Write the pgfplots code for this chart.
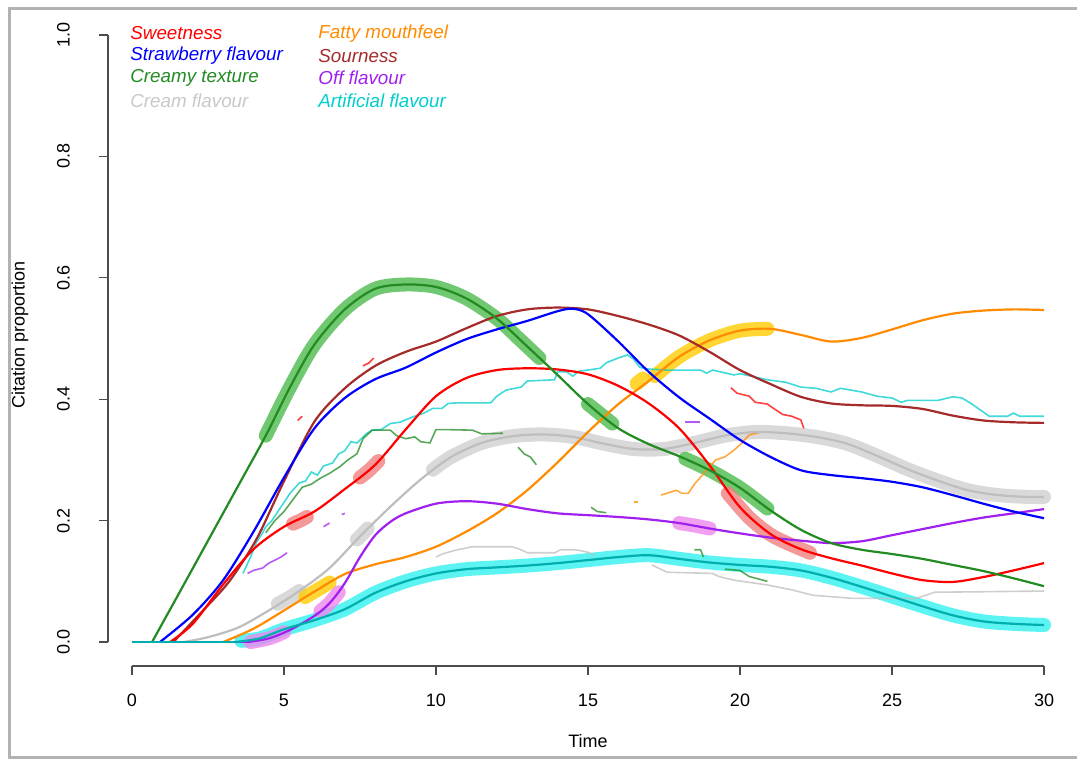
\documentclass[border=0pt]{standalone}
\usepackage{pgfplots}
\pgfplotsset{compat=1.18}
\usepackage{fontspec}
\setmainfont{Liberation Sans}
\definecolor{cRed}{HTML}{FF0000}
\definecolor{cBlue}{HTML}{0000FF}
\definecolor{cGreen}{HTML}{228B22}
\definecolor{cGray}{HTML}{BEBEBE}
\definecolor{cOrange}{HTML}{FF8C00}
\definecolor{cBrown}{HTML}{A52A2A}
\definecolor{cPurple}{HTML}{A020F0}
\definecolor{cCyan}{HTML}{00CDCD}
\definecolor{bGreen}{HTML}{4CBB4C}
\definecolor{bRed}{HTML}{F08080}
\definecolor{bGray}{HTML}{D0D0D0}
\definecolor{bYellow}{HTML}{FFCC00}
\definecolor{bPink}{HTML}{EE88EE}
\definecolor{bCyan}{HTML}{33F0F0}
\begin{document}
\begin{tikzpicture}
\begin{axis}[
  x=15.2pt, y=303.5pt,
  xmin=-0.79, xmax=30, ymin=-0.0395, ymax=1.0,
  axis x line*=bottom, axis y line*=left,
  axis line style={draw=none},
  clip=false,
  xtick={0,5,10,15,20,25,30},
  ytick={0,0.2,0.4,0.6,0.8,1.0},
  tick align=outside, major tick length=4.5pt,
  every tick/.style={black!70, line width=0.6pt},
  /pgf/number format/assume math mode=true,
  tick label style={font=\fontsize{9}{11}\selectfont},
  xticklabel style={yshift=-6pt},
  yticklabel style={rotate=90, anchor=south, yshift=11pt,
    /pgf/number format/fixed, /pgf/number format/fixed zerofill, /pgf/number format/precision=1},
  band/.style={line width=7pt, line cap=round, line join=round, opacity=0.8, smooth},
  main/.style={line width=1.1pt, smooth},
  flat/.style={line width=1.1pt, sharp plot},
  step/.style={line width=0.8pt, opacity=0.75, sharp plot},
]
% ---------- bands ----------
\addplot[band, color=bCyan] coordinates {(3.6,0.002) (4.2,0.006) (5.0,0.021) (6.0,0.036) (7.0,0.054) (8.0,0.081) (9.0,0.1) (10.0,0.113) (11.0,0.12) (12.0,0.123) (13.0,0.126) (14.0,0.13) (15.0,0.135) (16.0,0.14) (17.0,0.143) (18.0,0.137) (19.0,0.131) (20.0,0.127) (21.0,0.124) (22.0,0.118) (23.0,0.106) (24.0,0.091) (25.0,0.075) (26.0,0.059) (27.0,0.044) (28.0,0.034) (29.0,0.03) (30.0,0.028)};
\addplot[band, color=bGray] coordinates {(9.9,0.284) (10.5,0.305) (11.5,0.328) (12.5,0.339) (13.5,0.342) (14.5,0.338) (15.5,0.327) (16.5,0.318) (17.5,0.318) (18.5,0.328) (19.5,0.34) (20.5,0.346) (21.5,0.344) (22.5,0.338) (23.5,0.327) (24.5,0.307) (25.5,0.285) (26.5,0.266) (27.5,0.25) (28.5,0.242) (29.5,0.239) (30,0.239)};
\addplot[band, color=bGray] coordinates {(4.8,0.063) (5.2,0.074) (5.5,0.084)};
\addplot[band, color=bGray] coordinates {(7.4,0.169) (7.6,0.179) (7.75,0.187)};
\addplot[band, color=bGreen] coordinates {(4.4,0.34) (5.2,0.42) (6.0,0.49) (7.0,0.548) (8.0,0.582) (9.0,0.589) (10.0,0.585) (11.0,0.566) (12.0,0.533) (12.7,0.501) (13.4,0.468)};
\addplot[band, color=bGreen] coordinates {(15.0,0.392) (15.4,0.376) (15.8,0.36)};
\addplot[band, color=bGreen] coordinates {(18.2,0.302) (19.0,0.283) (20.0,0.254) (20.9,0.22)};
\addplot[band, color=bRed] coordinates {(5.3,0.195) (5.53,0.2) (5.75,0.206)};
\addplot[band, color=bRed] coordinates {(7.5,0.271) (7.8,0.283) (8.1,0.298)};
\addplot[band, color=bRed] coordinates {(19.6,0.245) (20.3,0.205) (21.0,0.177) (21.6,0.162) (22.3,0.147)};
\addplot[band, color=bYellow] coordinates {(5.7,0.074) (6.1,0.086) (6.5,0.098)};
\addplot[band, color=bYellow] coordinates {(16.6,0.426) (16.8,0.434)};
\addplot[band, color=bYellow] coordinates {(17.2,0.438) (18.0,0.47) (19.0,0.497) (20.0,0.513) (20.9,0.516)};
\addplot[band, color=bPink] coordinates {(3.9,0) (4.5,0.006) (5.0,0.016)};
\addplot[band, color=bPink] coordinates {(6.2,0.051) (6.5,0.064) (6.8,0.082)};
\addplot[band, color=bPink] coordinates {(18.0,0.196) (18.5,0.192) (19.0,0.187)};
% ---------- thin stepped lines ----------
\addplot[step, color=cCyan] coordinates {(3.65,0.113) (3.9,0.14) (4.1,0.165) (4.3,0.18) (4.4,0.19) (4.6,0.2) (4.8,0.215) (5.0,0.23) (5.2,0.245) (5.5,0.262) (5.7,0.265) (5.9,0.28) (6.1,0.275) (6.3,0.29) (6.6,0.295) (6.8,0.31) (7.0,0.315) (7.2,0.33) (7.4,0.328) (7.7,0.343) (7.9,0.349) (8.2,0.35) (8.5,0.36) (8.8,0.362) (9.0,0.366) (9.3,0.372) (9.6,0.377) (9.9,0.385) (10.2,0.385) (10.4,0.393) (10.7,0.394) (11.8,0.394) (12.0,0.405) (12.3,0.415) (12.8,0.42) (13.0,0.43) (13.9,0.432) (14.0,0.445) (14.3,0.445) (14.5,0.438) (14.7,0.446) (15.4,0.451) (15.6,0.46) (16.0,0.468) (16.3,0.473) (16.5,0.466) (16.7,0.453) (16.9,0.45) (17.6,0.448) (18.7,0.448) (18.9,0.443) (19.1,0.448) (19.8,0.44) (20.0,0.442) (20.9,0.432) (21.5,0.428) (22.0,0.42) (22.5,0.418) (23.0,0.412) (23.3,0.418) (24.0,0.412) (24.5,0.405) (25.0,0.402) (25.3,0.395) (25.5,0.398) (26.5,0.398) (27.0,0.404) (27.3,0.402) (27.6,0.393) (28.2,0.372) (28.8,0.372) (29.0,0.377) (29.2,0.372) (30,0.372)};
\addplot[step, color=cGreen] coordinates {(4.4,0.18) (4.7,0.2) (5.0,0.215) (5.3,0.235) (5.6,0.255) (5.9,0.26) (6.2,0.27) (6.5,0.278) (6.84,0.289) (7.1,0.3) (7.4,0.31) (7.6,0.335) (7.9,0.349) (8.5,0.349) (8.7,0.34) (9.0,0.335) (9.3,0.338) (9.5,0.33) (9.8,0.328) (10.0,0.35) (10.3,0.35) (11.2,0.349) (11.5,0.343) (12.2,0.344)};
\addplot[step, color=cGreen] coordinates {(12.7,0.321) (12.9,0.31) (13.1,0.305) (13.3,0.292)};
\addplot[step, color=cGreen] coordinates {(15.1,0.222) (15.3,0.215) (15.6,0.213)};
\addplot[step, color=cGreen] coordinates {(18.5,0.152) (18.7,0.152) (18.8,0.14)};
\addplot[step, color=cGreen] coordinates {(19.5,0.12) (20.0,0.118) (20.3,0.108) (20.9,0.1)};
\addplot[step, color=cRed] coordinates {(5.45,0.365) (5.6,0.372)};
\addplot[step, color=cRed] coordinates {(7.6,0.455) (7.8,0.46) (7.95,0.468)};
\addplot[step, color=cRed] coordinates {(19.7,0.419) (19.9,0.41) (20.3,0.405) (20.5,0.395) (20.9,0.392) (21.1,0.385) (21.4,0.375) (21.7,0.372) (22.0,0.366) (22.1,0.352)};
\addplot[step, color=cPurple] coordinates {(3.8,0.113) (4.0,0.118) (4.3,0.122) (4.5,0.13) (4.7,0.135) (4.9,0.14) (5.1,0.147)};
\addplot[step, color=cPurple] coordinates {(6.3,0.19) (6.5,0.196)};
\addplot[step, color=cPurple] coordinates {(6.9,0.21) (7.0,0.212)};
\addplot[step, color=cPurple] coordinates {(18.2,0.362) (18.7,0.362)};
\addplot[step, color=cOrange] coordinates {(17.4,0.242) (17.9,0.25) (18.1,0.245) (18.3,0.245) (18.5,0.26) (18.9,0.283) (19.2,0.3) (19.5,0.305) (19.8,0.316) (20.0,0.325) (20.3,0.341) (20.7,0.346)};
\addplot[step, color=cOrange] coordinates {(16.5,0.231) (16.65,0.231)};
\addplot[step, color=cGray] coordinates {(10.0,0.14) (10.2,0.145) (10.7,0.152) (11.2,0.157) (12.5,0.157) (12.8,0.152) (13.0,0.147) (13.9,0.147) (14.1,0.152) (14.6,0.152) (15.0,0.148) (15.2,0.143)};
\addplot[step, color=cGray] coordinates {(17.1,0.127) (17.6,0.115) (19.1,0.113) (19.3,0.108) (19.8,0.102) (20.9,0.094) (21.7,0.086) (22.4,0.077) (23.7,0.072) (25.8,0.072) (26.4,0.082) (30,0.084)};
% ---------- main curves ----------
\addplot[flat, color=cGray] coordinates {(0,0) (1.7,0)};
\addplot[main, color=cGray] coordinates {(1.7,0) (2.5,0.008) (3.5,0.024) (4.5,0.052) (5.5,0.084) (6.5,0.122) (7.5,0.174) (8.5,0.223) (9.5,0.268) (10.5,0.305) (11.5,0.328) (12.5,0.339) (13.5,0.342) (14.5,0.338) (15.5,0.327) (16.5,0.318) (17.5,0.318) (18.5,0.328) (19.5,0.34) (20.5,0.346) (21.5,0.344) (22.5,0.338) (23.5,0.327) (24.5,0.307) (25.5,0.285) (26.5,0.266) (27.5,0.25) (28.5,0.242) (29.5,0.239) (30,0.239)};
\addplot[flat, color=cOrange] coordinates {(0,0) (3.0,0)};
\addplot[main, color=cOrange] coordinates {(3.0,0) (4.0,0.022) (5.0,0.052) (6.0,0.083) (7.0,0.112) (8.0,0.128) (9.0,0.14) (10.0,0.157) (11.0,0.182) (12.0,0.212) (13.0,0.25) (14.0,0.296) (15.0,0.346) (16.0,0.392) (17.0,0.43) (18.0,0.47) (19.0,0.497) (20.0,0.513) (21.0,0.516) (22.0,0.506) (23.0,0.495) (24.0,0.501) (25.0,0.515) (26.0,0.53) (27.0,0.541) (28.0,0.546) (29.0,0.548) (30.0,0.547)};
\addplot[flat, color=cPurple] coordinates {(0,0) (3.8,0)};
\addplot[main, color=cPurple] coordinates {(3.8,0) (4.5,0.006) (5.2,0.02) (6.0,0.043) (6.5,0.064) (7.0,0.097) (7.5,0.14) (8.0,0.176) (8.5,0.198) (9.0,0.212) (10.0,0.228) (11.0,0.232) (12.0,0.228) (13.0,0.219) (14.0,0.212) (15.0,0.209) (16.0,0.206) (17.0,0.202) (18.0,0.196) (19.0,0.187) (20.0,0.179) (21.0,0.172) (22.0,0.167) (23.0,0.163) (24.0,0.166) (25.0,0.176) (26.0,0.186) (27.0,0.196) (28.0,0.205) (29.0,0.212) (30.0,0.219)};
\addplot[flat, color=cBrown] coordinates {(0,0) (1.36,0)};
\addplot[main, color=cBrown] coordinates {(1.36,0) (2.3,0.05) (3.2,0.1) (4.1,0.17) (5.0,0.265) (6.0,0.363) (7.0,0.418) (8.0,0.455) (9.0,0.478) (10.0,0.495) (11.0,0.517) (12.0,0.537) (13.0,0.548) (14.0,0.551) (15.0,0.548) (16.0,0.537) (17.0,0.523) (18.0,0.505) (19.0,0.478) (20.0,0.448) (21.0,0.425) (22.0,0.404) (23.0,0.393) (24.0,0.39) (25.0,0.389) (26.0,0.384) (27.0,0.373) (28.0,0.365) (29.0,0.362) (30.0,0.361)};
\addplot[flat, color=cBlue] coordinates {(0,0) (0.92,0)};
\addplot[main, color=cBlue] coordinates {(0.92,0) (2.0,0.045) (3.0,0.102) (4.0,0.182) (5.0,0.271) (6.0,0.352) (7.0,0.402) (8.0,0.433) (9.0,0.452) (10.0,0.477) (11.0,0.499) (12.0,0.515) (13.0,0.529) (14.0,0.545) (14.5,0.549) (15.0,0.54) (16.0,0.495) (17.0,0.445) (18.0,0.403) (19.0,0.368) (20.0,0.333) (21.0,0.305) (22.0,0.283) (23.0,0.275) (24.0,0.27) (25.0,0.264) (26.0,0.255) (27.0,0.242) (28.0,0.228) (29.0,0.215) (30,0.204)};
\addplot[flat, color=cRed] coordinates {(0,0) (1.25,0)};
\addplot[main, color=cRed] coordinates {(1.25,0) (2.0,0.03) (3.0,0.095) (4.0,0.153) (5.0,0.19) (6.0,0.215) (7.0,0.252) (8.0,0.292) (9.0,0.35) (10.0,0.405) (11.0,0.435) (12.0,0.448) (13.0,0.451) (14.0,0.449) (15.0,0.441) (16.0,0.422) (17.0,0.393) (18.0,0.352) (19.0,0.291) (20.0,0.222) (21.0,0.178) (22.0,0.153) (23.0,0.138) (24.0,0.126) (25.0,0.113) (26.0,0.102) (27.0,0.099) (28.0,0.107) (29.0,0.118) (30.0,0.13)};
\addplot[flat, color=cGreen] coordinates {(0,0) (0.66,0)};
\addplot[main, color=cGreen] coordinates {(0.66,0) (1.5,0.076) (2.5,0.167) (3.5,0.258) (4.4,0.34) (5.2,0.42) (6.0,0.49) (7.0,0.548) (8.0,0.582) (9.0,0.589) (10.0,0.585) (11.0,0.566) (12.0,0.533) (13.0,0.487) (14.0,0.44) (15.0,0.392) (16.0,0.352) (17.0,0.326) (18.0,0.306) (19.0,0.283) (20.0,0.254) (21.0,0.217) (22.0,0.185) (23.0,0.163) (24.0,0.152) (25.0,0.145) (26.0,0.137) (27.0,0.127) (28.0,0.117) (29.0,0.105) (30.0,0.092)};
\addplot[flat, color=cCyan!85!black] coordinates {(0,0) (3.4,0)};
\addplot[main, color=cCyan!85!black] coordinates {(3.4,0) (4.2,0.006) (5.0,0.021) (6.0,0.036) (7.0,0.054) (8.0,0.081) (9.0,0.1) (10.0,0.113) (11.0,0.12) (12.0,0.123) (13.0,0.126) (14.0,0.13) (15.0,0.135) (16.0,0.14) (17.0,0.143) (18.0,0.137) (19.0,0.131) (20.0,0.127) (21.0,0.124) (22.0,0.118) (23.0,0.106) (24.0,0.091) (25.0,0.075) (26.0,0.059) (27.0,0.044) (28.0,0.034) (29.0,0.03) (30.0,0.028)};
% ---------- axes lines ----------
\draw[black!70, line width=0.6pt] (axis cs:0,-0.0395) -- (axis cs:30,-0.0395);
\draw[black!70, line width=0.6pt] (axis cs:-0.79,0) -- (axis cs:-0.79,1);
% ---------- labels ----------
\node[font=\fontsize{9}{11}\selectfont] at (axis cs:15,-0.163) {Time};
\node[font=\fontsize{9}{11}\selectfont, rotate=90] at (axis cs:-3.684,0.506) {Citation proportion};
% ---------- legend ----------
\begin{scope}[every node/.style={anchor=west, font=\fontsize{9.4}{11}\selectfont\itshape, inner sep=0pt}]
\node[text=cRed] at (axis cs:-0.066,1.003) {Sweetness};
\node[text=cBlue] at (axis cs:-0.066,0.966) {Strawberry flavour};
\node[text=cGreen] at (axis cs:-0.066,0.929) {Creamy texture};
\node[text=cGray!85] at (axis cs:-0.066,0.892) {Cream flavour};
\node[text=cOrange] at (axis cs:6.12,1.003) {Fatty mouthfeel};
\node[text=cBrown] at (axis cs:6.12,0.966) {Sourness};
\node[text=cPurple] at (axis cs:6.12,0.929) {Off flavour};
\node[text=cCyan] at (axis cs:6.12,0.892) {Artificial flavour};
\end{scope}
% ---------- frame (open on the right, as in the reference) ----------
\draw[black!30, line width=1.5pt] (axis cs:31.1,1.0437) -- (axis cs:-4.03,1.0437) -- (axis cs:-4.03,-0.1895) -- (axis cs:31.1,-0.1895);
\path (axis cs:-4.342,1.0577) rectangle (axis cs:31.184,-0.1928);
\end{axis}
\end{tikzpicture}
\end{document}
